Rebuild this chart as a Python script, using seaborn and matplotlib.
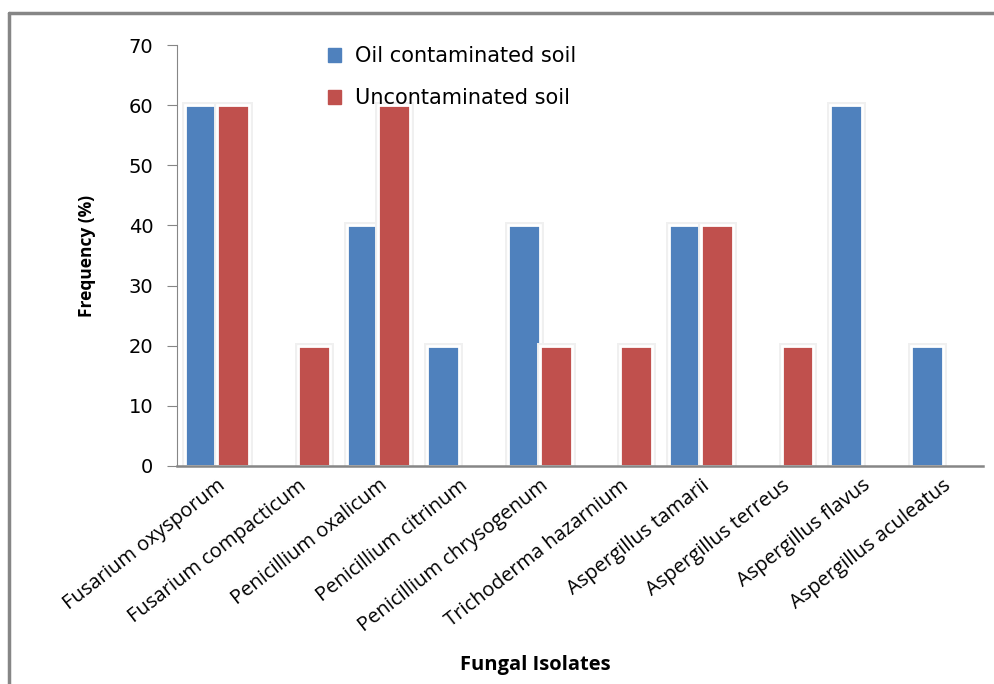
import matplotlib
matplotlib.use("Agg")
import matplotlib.pyplot as plt
import matplotlib.patheffects as pe
from matplotlib.lines import Line2D
import seaborn as sns
import pandas as pd

isolates = ["Fusarium oxysporum", "Fusarium compacticum", "Penicillium oxalicum",
            "Penicillium citrinum", "Penicillium chrysogenum", "Trichoderma hazarnium",
            "Aspergillus tamarii", "Aspergillus terreus", "Aspergillus flavus",
            "Aspergillus aculeatus"]
oil = [60, 0, 40, 20, 40, 0, 40, 0, 60, 20]
uncontaminated = [60, 20, 60, 0, 20, 20, 40, 20, 0, 0]
series_names = ["Oil contaminated soil", "Uncontaminated soil"]
colors = ["#4F81BD", "#C0504D"]

df = pd.DataFrame({"Isolate": isolates * 2,
                   "Soil": [series_names[0]] * len(isolates) + [series_names[1]] * len(isolates),
                   "Frequency": oil + uncontaminated})

sns.set_style("white")
plt.rcParams["font.family"] = ["DejaVu Sans"]

fig = plt.figure(figsize=(9.94, 6.84), dpi=100)
ax = fig.add_axes([0.178, 0.319, 0.811, 0.615])

sns.barplot(data=df, x="Isolate", y="Frequency", hue="Soil", palette=colors,
            saturation=1, width=0.79, edgecolor="white", linewidth=2, ax=ax, legend=False)

# faint grey glow around each bar, like the Excel original
for p in ax.patches:
    if p.get_height() == 0:
        p.set_visible(False)
    else:
        p.set_path_effects([pe.Stroke(linewidth=5, foreground="#f0f0f0"), pe.Normal()])

ax.set_ylim(0, 70)
ax.set_yticks(range(0, 71, 10))
ax.set_xlim(-0.5, len(isolates) - 0.5)
ax.tick_params(axis="y", length=7, color="#868686", labelsize=14, pad=10, left=True,
               labelcolor="black")
ax.tick_params(axis="x", length=0, pad=7, labelcolor="black")
for s in ["top", "right"]:
    ax.spines[s].set_visible(False)
ax.spines["left"].set_color("#868686")
ax.spines["bottom"].set_color("#868686")
ax.spines["bottom"].set_linewidth(1.8)
ax.spines["bottom"].set_zorder(5)

ax.set_xticks(range(len(isolates)))
ax.set_xticklabels(isolates, rotation=38, ha="right", rotation_mode="anchor",
                   fontsize=14.5, family="Open Sans")
ax.set_xlabel("Fungal Isolates", fontsize=14.5, fontweight="bold", family="Open Sans",
              color="black")
ax.xaxis.set_label_coords(0.445, -0.45)
ax.set_ylabel("Frequency (%)", fontsize=12.5, fontweight="bold", family="Open Sans",
              color="black")
ax.yaxis.set_label_coords(-0.1, 0.5)

handles = [plt.Rectangle((0, 0), 1, 1, color=c) for c in colors]
leg = fig.legend(handles, series_names, loc="upper left", bbox_to_anchor=(0.311, 0.96),
                 frameon=False, fontsize=15, handlelength=0.65, handleheight=0.65,
                 labelspacing=1.05, handletextpad=0.65)
for t in leg.get_texts():
    t.set_color("black")

# outer chart border (extends past the right and bottom edges)
fig.add_artist(Line2D([9 / 994, 1.0], [1 - 13 / 684, 1 - 13 / 684], color="#868686",
                      lw=2.5, transform=fig.transFigure))
fig.add_artist(Line2D([9 / 994, 9 / 994], [0.0, 1 - 13 / 684], color="#868686",
                      lw=2.5, transform=fig.transFigure))

fig.savefig("out.png", dpi=100)
